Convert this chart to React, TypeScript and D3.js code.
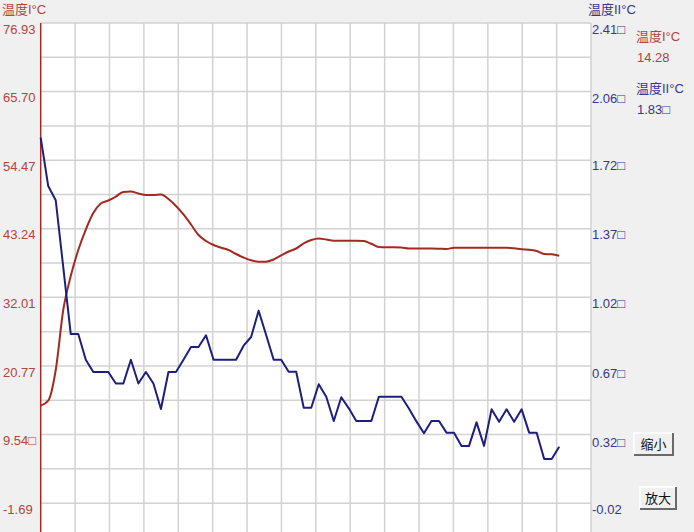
import React from 'react';
import * as d3 from 'd3';

// values, one sample per step
const redValues: number[] = [
  14.28, 15.09, 20.12, 29.94, 35.51, 39.77, 43.12, 45.82, 47.38, 47.87,
  48.52, 49.26, 49.34, 49.02, 48.77, 48.77, 48.85, 48.12, 46.97, 45.58,
  43.94, 42.22, 41.24, 40.58, 40.14, 39.77, 39.11, 38.54, 38.08, 37.85,
  37.85, 38.21, 38.87, 39.52, 40.01, 40.86, 41.40, 41.65, 41.48, 41.29,
  41.29, 41.29, 41.29, 41.24, 40.78, 40.26, 40.21, 40.21, 40.17, 40.01,
  40.01, 40.01, 40.01, 39.98, 39.93, 40.14, 40.14, 40.14, 40.14, 40.14,
  40.14, 40.14, 40.14, 40.04, 39.88, 39.81, 39.60, 39.11, 39.06, 38.83,
];

const blueValues: number[] = [
  1.83, 1.585, 1.513, 1.175, 0.836, 0.836, 0.706, 0.644, 0.644, 0.644,
  0.586, 0.586, 0.706, 0.586, 0.644, 0.586, 0.457, 0.644, 0.644, 0.706,
  0.770, 0.770, 0.830, 0.706, 0.706, 0.706, 0.706, 0.777, 0.821, 0.954,
  0.831, 0.706, 0.706, 0.645, 0.645, 0.463, 0.463, 0.582, 0.519, 0.396,
  0.516, 0.460, 0.396, 0.396, 0.396, 0.519, 0.519, 0.519, 0.519, 0.459,
  0.394, 0.334, 0.396, 0.396, 0.337, 0.337, 0.270, 0.270, 0.389, 0.270,
  0.455, 0.392, 0.455, 0.392, 0.455, 0.337, 0.337, 0.204, 0.204, 0.266,
];

const leftTickLabels = ['76.93', '65.70', '54.47', '43.24', '32.01', '20.77', '9.54\u25A1', '-1.69'];
const rightTickLabels = ['2.41\u25A1', '2.06\u25A1', '1.72\u25A1', '1.37\u25A1', '1.02\u25A1', '0.67\u25A1', '0.32\u25A1', '-0.02'];

const leftTitle = '温度I°C';
const rightTitle = '温度II°C';
const legendItems = [
  {name: '温度I°C', value: '14.28'},
  {name: '温度II°C', value: '1.83\u25A1'},
];
const buttonLabels = ['缩小', '放大'];

const W = 694;
const H = 532;
const RED = '#a32a22';
const BLUE = '#1e1e7e';
const RED_TEXT = '#b3443e';
const BLUE_TEXT = '#353590';
const FONT = '"Liberation Sans", Arial, "Noto Sans CJK SC", sans-serif';

export default function App() {
  const plotLeft = 40.7;
  const plotRight = 591;
  const plotTop = 23;
  const plotBottom = 503.2;

  const x = d3.scaleLinear().domain([0, 73.23]).range([plotLeft, plotRight]);
  const yL = d3.scaleLinear().domain([-1.69, 76.93]).range([plotBottom, plotTop]);
  const yR = d3.scaleLinear().domain([-0.02, 2.41]).range([plotBottom, plotTop]);

  const redLine = d3.line<number>()
      .x((d, i) => x(i))
      .y((d) => yL(d))
      .curve(d3.curveMonotoneX);
  const blueLine = d3.line<number>()
      .x((d, i) => x(i))
      .y((d) => yR(d));

  // grid: two grid lines per labelled tick
  const leftNums = leftTickLabels.map((s) => parseFloat(s));
  const gridStep = (leftNums[0] - leftNums[1]) / 2;
  const hGrid = d3.range(0, 16).map((k) => yL(76.93 - k * gridStep));
  const vGrid = d3.range(1, 17).map((k) => x((k * 73.23) / 16));

  return (
    <div style={{position: 'absolute', left: 0, top: 0, width: W, height: H}}>
      <svg width={W} height={H} style={{display: 'block'}} fontFamily={FONT}>
        <rect x={0} y={0} width={W} height={H} fill="#f0f0f0" />
        <rect x={plotLeft} y={plotTop} width={plotRight - plotLeft} height={H - plotTop} fill="#ffffff" />

        <g stroke="#d2d2d2" strokeWidth={1.5}>
          {hGrid.map((gy, i) => (
            <line key={'h' + i} x1={plotLeft} x2={plotRight} y1={gy} y2={gy} />
          ))}
          {vGrid.map((gx, i) => (
            <line key={'v' + i} x1={gx} x2={gx} y1={plotTop} y2={H} />
          ))}
        </g>

        <line x1={plotLeft} x2={plotLeft} y1={plotTop} y2={H} stroke={RED} strokeWidth={1.5} />

        <path d={redLine(redValues) || ''} fill="none" stroke={RED} strokeWidth={2} />
        <path d={blueLine(blueValues) || ''} fill="none" stroke={BLUE} strokeWidth={2} strokeLinejoin="round" />

        <g fontSize={13} fill={RED_TEXT}>
          {leftTickLabels.map((t, i) => (
            <text key={t} x={3} y={yL(leftNums[i]) + 10.5}>{t}</text>
          ))}
          <text x={2} y={14}>{leftTitle}</text>
        </g>

        <g fontSize={13} fill={BLUE_TEXT}>
          {rightTickLabels.map((t) => (
            <text key={t} x={592} y={yR(parseFloat(t)) + 10.8}>{t}</text>
          ))}
          <text x={588} y={14}>{rightTitle}</text>
        </g>

        <g fontSize={13}>
          {legendItems.map((it, i) => (
            <g key={it.name} fill={i === 0 ? RED_TEXT : BLUE_TEXT}>
              <text x={636} y={41 + i * 52}>{it.name}</text>
              <text x={637} y={62 + i * 52}>{it.value}</text>
            </g>
          ))}
        </g>

        {buttonLabels.map((b, i) => {
          const bx = i === 0 ? 634 : 640;
          const by = i === 0 ? 433 : 487;
          const bw = i === 0 ? 39 : 36;
          const bh = 22;
          return (
            <g key={b}>
              <rect x={bx} y={by} width={bw} height={bh} fill="#f0f0f0" />
              <path d={`M${bx},${by + bh} V${by} H${bx + bw}`} fill="none" stroke="#ffffff" strokeWidth={1.5} />
              <path d={`M${bx},${by + bh} H${bx + bw} V${by}`} fill="none" stroke="#6a6a6a" strokeWidth={2} />
              <text x={bx + bw / 2} y={by + 16} textAnchor="middle" fontSize={13} fill="#111111">{b}</text>
            </g>
          );
        })}
      </svg>
    </div>
  );
}
